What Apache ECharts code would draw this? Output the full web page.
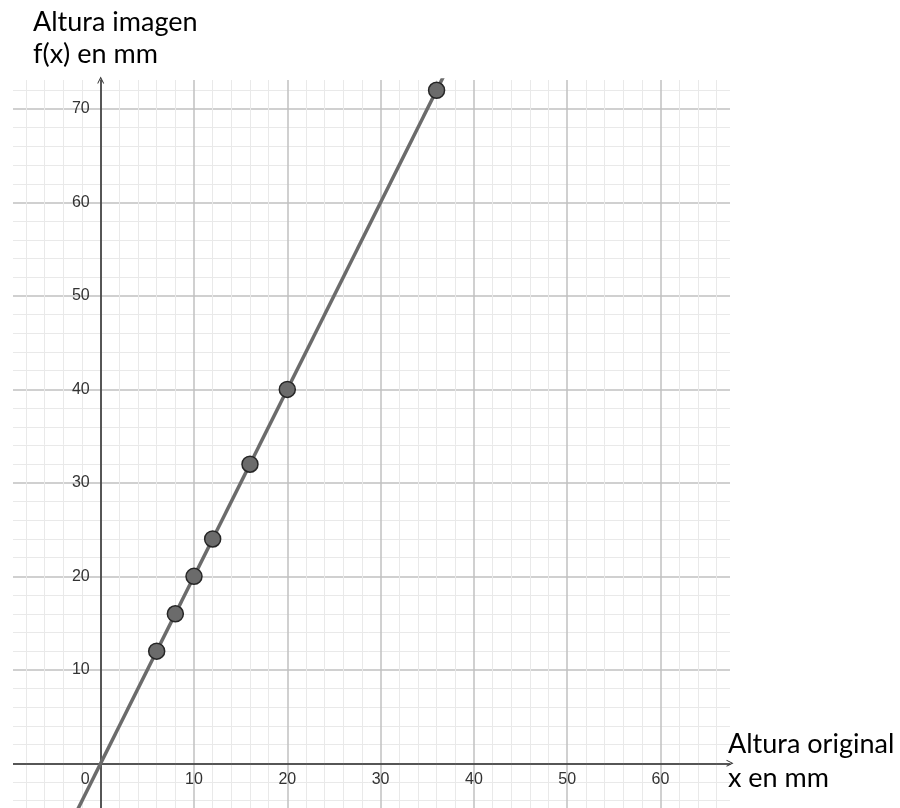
<!DOCTYPE html>
<html><head><meta charset="utf-8">
<script src="https://cdn.jsdelivr.net/npm/echarts@6/dist/echarts.min.js"></script>
<style>html,body{margin:0;padding:0;background:#fff}#c{width:900px;height:808px}</style>
</head><body><div id="c"></div>
<script>
const pointsX = [6, 8, 10, 12, 16, 20, 36];
const pointsY = [12, 16, 20, 24, 32, 40, 72];
const lineX = [-3, 37];
const lineY = [-6, 74];
const xTickLabels = [0, 10, 20, 30, 40, 50, 60];
const yTickLabels = [10, 20, 30, 40, 50, 60, 70];
const yTitle = ['Altura imagen', 'f(x) en mm'];
const xTitle = ['Altura original', 'x en mm'];

const chart = echarts.init(document.getElementById('c'), null, {renderer: 'canvas'});
const arrow = 'path://M0,10L5,0L10,10L8.6,10L5,2.8L1.4,10Z';
const axisColor = '#2e2e2e';
const labelFont = {fontFamily: 'Liberation Sans', fontSize: 16, color: '#333333'};
const X_MIN = -10, X_MAX = 67.45, Y_MIN = -10, Y_MAX = 73.1;
const GL = 7.4, GR = 170, GT = 80, GB = -48.8;
const xZeroOffset = -93.3;   // y-axis sits at x=0
const yZeroOffset = -93.5;   // x-axis sits at y=0

const gridLines = {
  splitLine: {show: true, showMinLine: false, showMaxLine: false, lineStyle: {color: '#c0c0c0', width: 1.5}},
  minorTick: {show: false, splitNumber: 5},
  minorSplitLine: {show: true, lineStyle: {color: '#e9e9e9', width: 1}}
};

chart.setOption({
  animation: false,
  backgroundColor: '#ffffff',
  grid: {left: GL, right: GR, top: GT, bottom: GB, containLabel: false, outerBoundsMode: 'none'},
  xAxis: [
    Object.assign({
      type: 'value', min: X_MIN, max: X_MAX, interval: 10, position: 'bottom',
      axisLine: {onZero: true, lineStyle: {color: axisColor, width: 1.5}, symbol: ['none', arrow], symbolSize: [11, 7]},
      axisTick: {show: false},
      axisLabel: {show: false}
    }, gridLines),
    {
      type: 'value', min: X_MIN, max: X_MAX, interval: 10, position: 'bottom', offset: yZeroOffset,
      axisLine: {show: false, onZero: false}, axisTick: {show: false}, splitLine: {show: false},
      axisLabel: Object.assign({}, labelFont, {
        margin: 8, showMinLabel: true, showMaxLabel: true,
        formatter: function (v) {
          if (v === 0) return '{z|0}';
          return xTickLabels.indexOf(v) >= 0 ? String(v) : '';
        },
        rich: {z: Object.assign({}, labelFont, {padding: [0, 31, 0, 0]})}
      })
    }
  ],
  yAxis: [
    Object.assign({
      type: 'value', min: Y_MIN, max: Y_MAX, interval: 10, position: 'left',
      axisLine: {onZero: true, lineStyle: {color: axisColor, width: 1.5}, symbol: ['none', arrow], symbolSize: [11, 7]},
      axisTick: {show: false},
      axisLabel: {show: false}
    }, gridLines),
    {
      type: 'value', min: Y_MIN, max: Y_MAX, interval: 10, position: 'left', offset: xZeroOffset,
      axisLine: {show: false, onZero: false}, axisTick: {show: false}, splitLine: {show: false},
      axisLabel: Object.assign({}, labelFont, {
        margin: 11,
        formatter: function (v) { return yTickLabels.indexOf(v) >= 0 ? String(v) : ''; }
      })
    }
  ],
  graphic: [
    {type: 'rect', left: 0, top: 0, shape: {x: 0, y: 0, width: 13, height: 808}, style: {fill: '#ffffff'}, z: 100},
    {type: 'text', left: 33, top: 9, z: 101, style: {text: yTitle[0], font: '27px Lato', fill: '#000'}},
    {type: 'text', left: 33, top: 41, z: 101, style: {text: yTitle[1], font: '27px Lato', fill: '#000'}},
    {type: 'text', left: 728, top: 731, z: 101, style: {text: xTitle[0], font: '27px Lato', fill: '#000'}},
    {type: 'text', left: 728, top: 765, z: 101, style: {text: xTitle[1], font: '27px Lato', fill: '#000'}}
  ],
  series: [
    {
      type: 'line', data: lineX.map((x, i) => [x, lineY[i]]), showSymbol: false, clip: true,
      lineStyle: {color: '#6b6b6b', width: 3.5}, z: 3
    },
    {
      type: 'scatter', data: pointsX.map((x, i) => [x, pointsY[i]]), symbolSize: 16, clip: false,
      itemStyle: {color: '#6b6b6b', borderColor: '#262626', borderWidth: 1.5, opacity: 1}, z: 4
    }
  ]
});
</script></body></html>
